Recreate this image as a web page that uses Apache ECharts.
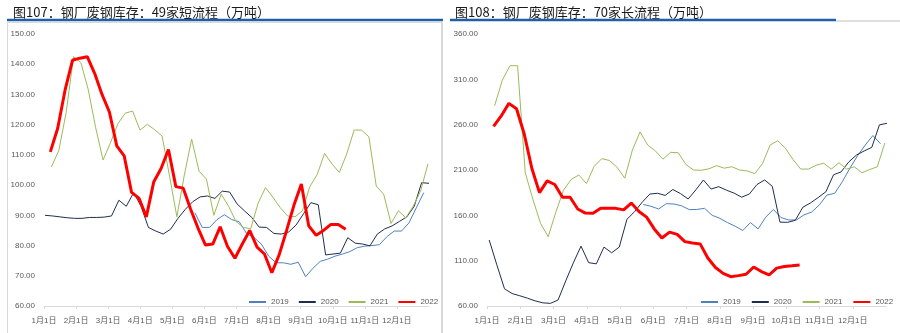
<!DOCTYPE html>
<html><head><meta charset="utf-8">
<script src="https://cdn.jsdelivr.net/npm/echarts@6/dist/echarts.min.js"></script>
<style>html,body{margin:0;padding:0;background:#fff}#c{width:900px;height:333px}</style>
</head><body><div id="c"></div>
<script>
// ---- data ----
const monthLabels = ['1月1日','2月1日','3月1日','4月1日','5月1日','6月1日','7月1日','8月1日','9月1日','10月1日','11月1日','12月1日'];
const seriesNames = ['2019','2020','2021','2022'];
// first weekly report day (day of year) for each year; values are weekly
const leftStartDay = [143, 1, 7, 6];
const rightStartDay = [143, 2, 7, 6];

// 图107 49家短流程
const left2019 = [90.9,86,86,88.6,90.2,88.6,87.9,84,82.7,80.5,76.5,74.3,74.3,73.8,74.5,69.7,72.5,74.8,75.5,76.5,77.2,78,79.3,79.8,80,80.3,82.9,84.8,84.8,87.5,92.5,97.5];
const left2020 = [90,89.8,89.5,89.2,89,89,89.3,89.3,89.4,89.8,95,93,97.5,93,86,84.8,83.8,85.4,89,92,94.5,96.1,96.4,95.6,98,97.7,93.8,91.5,89.3,86.1,86,84,83.8,84.5,86.8,90.5,94.2,93.5,76.9,77.2,77.5,82.6,80.8,80.5,79.9,83.8,85.5,86.5,88,89.5,93,100.8,100.6];
const left2021 = [106,111.4,124,142.5,140.5,131.5,119,108.3,114,120.3,123.8,124.5,118.2,120.1,118.3,116.2,103,89.5,103.3,115.2,104.6,102,90,97,93,88,86,85.6,94,99.2,96,92.5,89.8,89.5,91.5,99.5,103.5,110.5,107,104.2,110.3,118.2,118.2,116,99.7,97,87.3,91.5,89.2,93,98,107];
const left2022 = [111,118.8,131.5,141.3,142,142.5,137,130,124.2,113,109.7,97.6,95.7,89.5,101,105.5,111.8,99.5,99,92,85.8,80.2,80.5,86.2,79.7,75.8,80.5,85,79.5,77.2,71,77,85,93.4,100.4,86.5,83.4,85,87,87,85.4];

// 图108 70家长流程
const right2019 = [172,170,167,172.8,172.5,170.5,166.3,166.5,167.7,160,156.7,152,148,143.3,152,145,158,166.5,157.5,154.9,154.9,160.5,163.6,171.5,182.4,184.2,197,212,225.8,237.5,248,239];
const right2020 = [132.8,105.4,79,73.7,71.3,68.6,65.7,63.5,62.9,66.6,87.6,107.6,126,107.8,106.5,125,118.7,125,155.6,164,174.5,183.5,184.3,182,188.5,184,178,188,199,189,191.6,187.8,184.5,180,183.5,194,199,192,152.5,152.3,154.5,169,173.7,179.7,186,204.7,208,219,226.5,231,235,259.8,261.5];
const right2021 = [281,309,325,325,207,177.6,151,136.4,163.6,187.7,199.6,204.5,195,214,222.5,220.5,213,201,232,252,237.5,231,222,229.5,229,216,210,209.7,211.3,214.8,212,213.6,210,209,206,217,237.5,242.3,234,221.5,211,211,215.2,217.5,211,218,211,213.5,207,210.5,213.5,240];
const right2022 = [258,269.6,283.5,277.5,250,212,185,198,194,180,180,167,162.5,162.2,167.7,167.7,167.7,166,173.5,164.3,158,145,135,141.5,139,131,129.5,128.5,113,102.5,96,92.3,93.5,95,103,98,94.2,101.8,103.5,104.3,105.2];

const leftYTicks = {min: 60, max: 150, interval: 10};
const rightYTicks = {min: 60, max: 360, interval: 50};

// ---- styling ----
const colors = ['#4f81bd', '#1f2d4d', '#9bbb59', '#ff0000'];
const widths = [1, 1, 1, 3];
const monthLen = 365 / 12;
const monthTicks = monthLabels.map((_, i) => i * monthLen);
const labelColor = '#595959';
const FONT = '"Liberation Sans","Noto Sans CJK SC",sans-serif';

function toPairs(vals, start) { return vals.map((v, i) => [start + 7 * i, v]); }

function xAxis(grid) {
  return {
    type: 'value', gridIndex: grid, min: 0, max: 365,
    axisLine: {show: true, lineStyle: {color: '#d9d9d9', width: 1}},
    axisTick: {show: true, customValues: monthTicks, length: 3, lineStyle: {color: '#d9d9d9'}},
    axisLabel: {customValues: monthTicks, margin: 11, fontSize: 8, color: labelColor, fontFamily: FONT,
      formatter: v => monthLabels[Math.round(v / monthLen)]},
    splitLine: {show: false}
  };
}
function yAxis(grid, t) {
  return {
    type: 'value', gridIndex: grid, min: t.min, max: t.max, interval: t.interval,
    axisLine: {show: false}, axisTick: {show: false}, splitLine: {show: false},
    axisLabel: {margin: 9, fontSize: 8, color: labelColor, fontFamily: FONT, formatter: v => v.toFixed(2)}
  };
}

const leftSets = [left2019, left2020, left2021, left2022];
const rightSets = [right2019, right2020, right2021, right2022];
const series = [];
leftSets.forEach((vals, k) => series.push({
  name: seriesNames[k], type: 'line', xAxisIndex: 0, yAxisIndex: 0, symbol: 'none', silent: true,
  data: toPairs(vals, leftStartDay[k]), lineStyle: {color: colors[k], width: widths[k]}, itemStyle: {color: colors[k]}
}));
rightSets.forEach((vals, k) => series.push({
  name: seriesNames[k], type: 'line', xAxisIndex: 1, yAxisIndex: 1, symbol: 'none', silent: true,
  data: toPairs(vals, rightStartDay[k]), lineStyle: {color: colors[k], width: widths[k]}, itemStyle: {color: colors[k]}
}));

function legend(left, gap) {
  return {
    left: left, top: 298, itemWidth: 17, itemHeight: 8, itemGap: gap, padding: 0,
    selectedMode: false, orient: 'horizontal',
    data: seriesNames.slice(),
    itemStyle: {color: 'transparent', borderColor: 'transparent', borderWidth: 0},
    textStyle: {fontSize: 8, color: labelColor, fontFamily: FONT}
  };
}

const chart = echarts.init(document.getElementById('c'), null, {renderer: 'canvas'});
chart.setOption({
  animation: false,
  backgroundColor: '#fff',
  title: [
    {text: '图107：钢厂废钢库存：49家短流程（万吨）', left: 8, top: 1,
     textStyle: {fontSize: 13, fontWeight: 'normal', color: '#1a1a1a', fontFamily: '"Noto Sans CJK SC"'}},
    {text: '图108：钢厂废钢库存：70家长流程（万吨）', left: 450, top: 1,
     textStyle: {fontSize: 13, fontWeight: 'normal', color: '#1a1a1a', fontFamily: '"Noto Sans CJK SC"'}}
  ],
  graphic: [
    {type: 'rect', shape: {x: 7.5, y: 22.5, width: 435, height: 320}, style: {fill: 'none', stroke: '#d9d9d9', lineWidth: 1}, silent: true},
    {type: 'line', shape: {x1: 441.5, y1: 22, x2: 441.5, y2: 333}, style: {stroke: '#d9d9d9', lineWidth: 1}, silent: true},
    {type: 'line', shape: {x1: 7, y1: 20, x2: 443, y2: 20}, style: {stroke: '#1f5fa8', lineWidth: 2.5}, silent: true},
    {type: 'line', shape: {x1: 450, y1: 20, x2: 836, y2: 20}, style: {stroke: '#1f5fa8', lineWidth: 2.5}, silent: true},
    {type: 'line', shape: {x1: 836, y1: 21, x2: 900, y2: 21}, style: {stroke: '#d4d4d4', lineWidth: 1.5}, silent: true}
  ],
  legend: [legend(248, 9), legend(700, 10)],
  grid: [
    {left: 44, top: 34, width: 385, height: 272},
    {left: 487, top: 34, width: 399, height: 272}
  ],
  xAxis: [xAxis(0), xAxis(1)],
  yAxis: [yAxis(0, leftYTicks), yAxis(1, rightYTicks)],
  series: series
});
</script>
</body></html>
